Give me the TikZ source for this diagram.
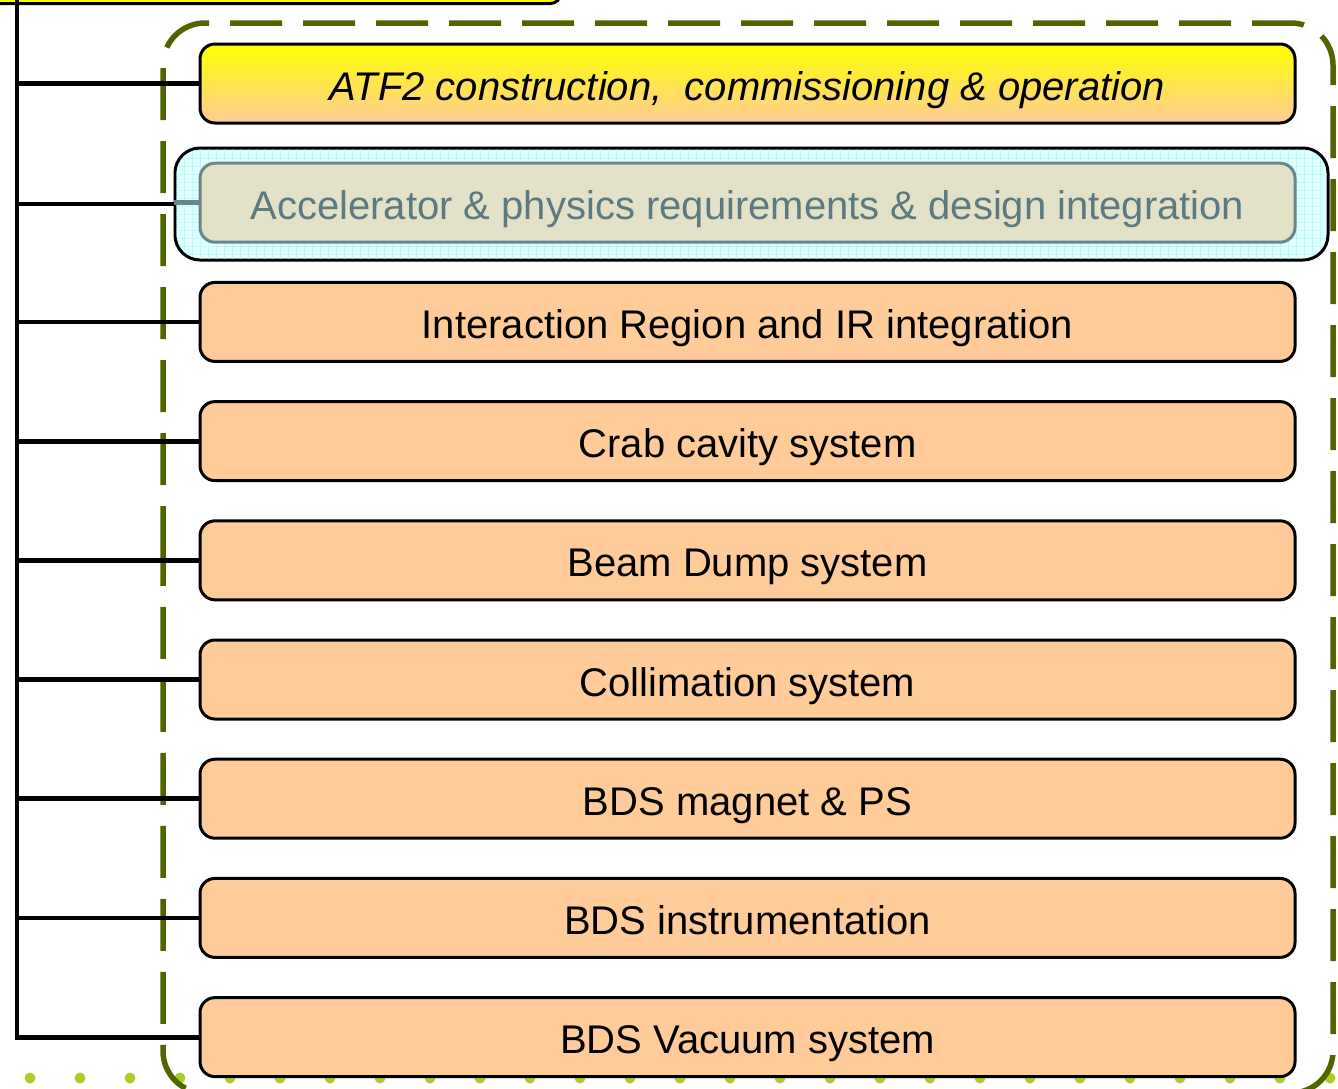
\documentclass[tikz,border=0pt]{standalone}
\usepackage{fontspec}
\setmainfont{Liberation Sans}
\definecolor{boxorange}{RGB}{255,204,153}
\definecolor{topyellow}{RGB}{255,255,0}
\definecolor{frameolive}{RGB}{79,102,0}
\definecolor{dotgreen}{RGB}{172,206,40}
\definecolor{hlcyan}{RGB}{224,255,255}
\definecolor{hlgrid}{RGB}{185,250,250}
\definecolor{fadedfill}{RGB}{228,224,196}
\definecolor{fadedline}{RGB}{105,135,138}
\definecolor{fadedtext}{RGB}{92,122,128}
\tikzset{
  leaf/.style={draw=black, line width=3pt, rounded corners=15pt, fill=boxorange,
    minimum width=1095pt, minimum height=79pt, inner sep=0pt,
    text height=33pt, text depth=0pt,
    font=\fontsize{40}{48}\selectfont},
  fadedleaf/.style={leaf, draw=fadedline, fill=fadedfill, fill opacity=0.93,
    text opacity=1, text=fadedtext},
  trunk/.style={line width=4.8pt, black},
  frame/.style={frameolive, line width=5.5pt, dash pattern=on 52pt off 21pt, rounded corners=42pt},
}
\begin{document}
\begin{tikzpicture}[x=1pt,y=-1pt]
\useasboundingbox (0,0) rectangle (1338,1088);

% row of decorative dots along the bottom
\foreach \k in {0,...,26}
  \fill[dotgreen] (30+50*\k,1078) circle (5.5pt);

% dashed group frame
\draw[frame] (163,600) -- (163,23) -- (1333,23) -- (1333,1093) -- (163,1093) -- cycle;

% parent box, mostly above the visible area
\node[draw=black, line width=3pt, rounded corners=10pt, fill=topyellow,
      minimum width=620pt, minimum height=70pt, anchor=south east] (top) at (562,5) {};

% highlighted (faded) item background with grid
\node[draw=black, line width=3pt, rounded corners=25pt, fill=hlcyan,
      minimum width=1153pt, minimum height=112pt, inner sep=0pt] (hl) at (751.5,204) {};
\begin{scope}
  \clip[rounded corners=24pt] (176.5,149.5) rectangle (1326.5,258.5);
  \foreach \gx in {176,184,...,1328}
    \draw[hlgrid, line width=0.8pt] (\gx,148) -- (\gx,260);
  \foreach \gy in {150,158,...,260}
    \draw[hlgrid, line width=0.8pt] (175,\gy) -- (1328,\gy);
\end{scope}

% work package boxes
\node[leaf, top color=topyellow, bottom color=boxorange, font=\fontsize{40}{48}\selectfont\itshape]
  (b1) at (747.5,83.5) {ATF2 construction,\ \ commissioning \& operation};
\node[fadedleaf] (b2) at (747.5,202.7) {Accelerator \& physics requirements \& design integration};
\node[leaf] (b3) at (747.5,321.9) {Interaction Region and IR integration};
\node[leaf] (b4) at (747.5,441.1) {Crab cavity system};
\node[leaf] (b5) at (747.5,560.3) {Beam Dump system};
\node[leaf] (b6) at (747.5,679.5) {Collimation system};
\node[leaf] (b7) at (747.5,798.7) {BDS magnet \& PS};
\node[leaf] (b8) at (747.5,917.9) {BDS instrumentation};
\node[leaf] (b9) at (747.5,1037.1) {BDS Vacuum system};

% tree connectors
\coordinate (root) at (17,0);
\draw[trunk] (root) |- (b9.west);
\foreach \b in {b1,b3,b4,b5,b6,b7,b8}
  \draw[trunk] (root |- \b.west) -- (\b.west);
\draw[trunk] (root |- hl.west) -- (hl.west);
\draw[fadedline, line width=4.5pt] (hl.west |- b2.west) -- (b2.west);
\end{tikzpicture}
\end{document}
